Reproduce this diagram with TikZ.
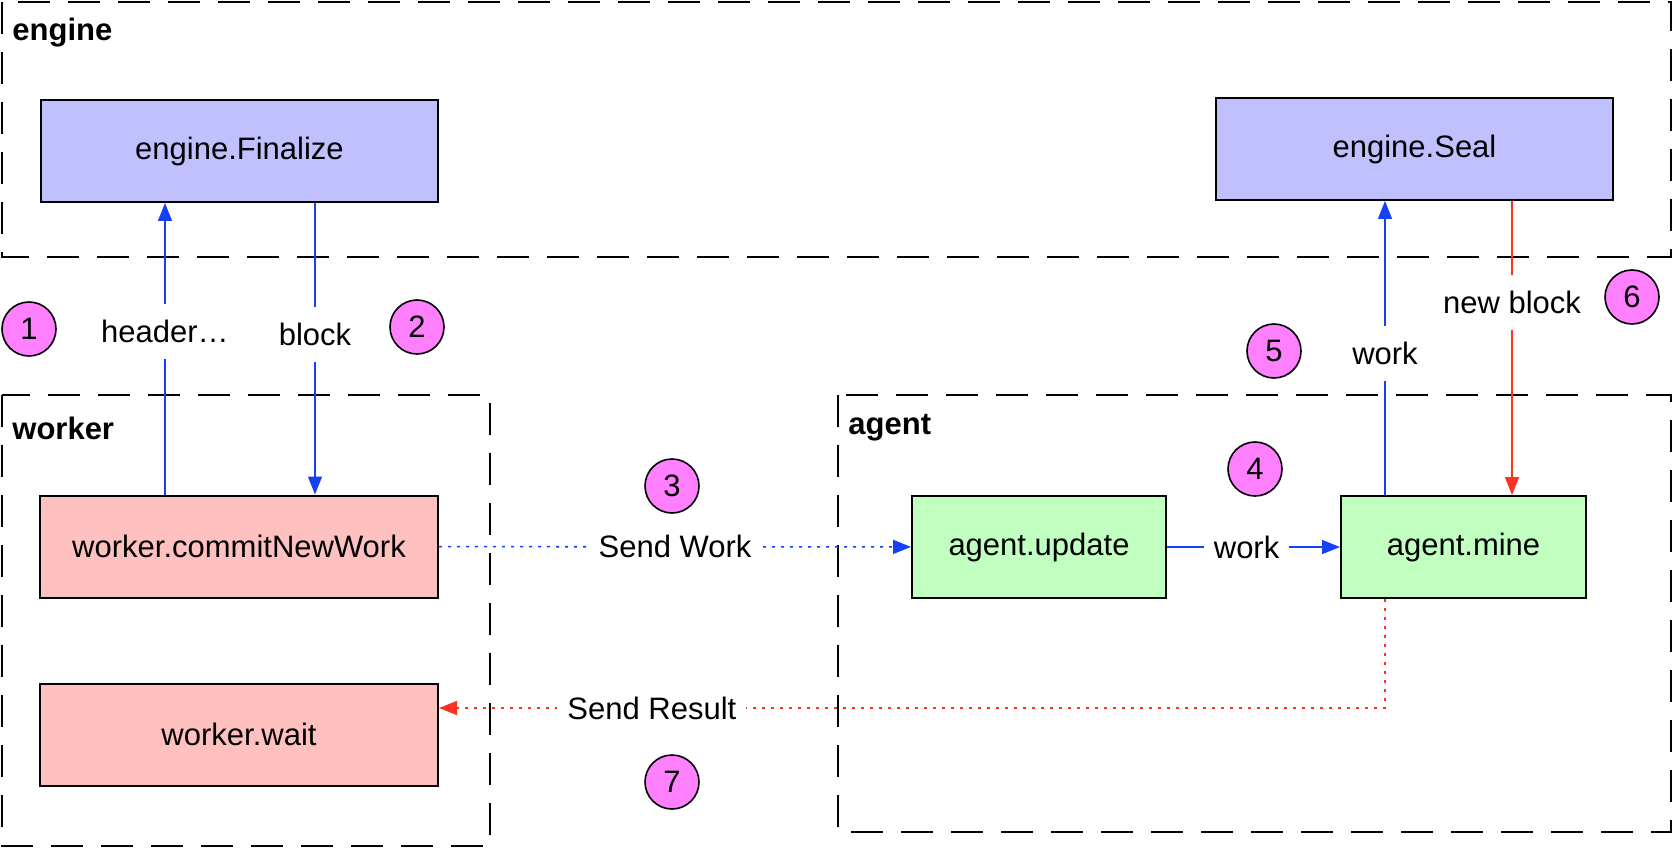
\documentclass[tikz,border=0pt]{standalone}
\usepackage{fontspec}
\setmainfont{Liberation Sans}
\usetikzlibrary{arrows.meta,calc,positioning}
\definecolor{enfill}{RGB}{192,192,255}
\definecolor{wkfill}{RGB}{255,192,192}
\definecolor{agfill}{RGB}{192,255,192}
\definecolor{stepfill}{RGB}{255,128,255}
\definecolor{flowblue}{RGB}{22,64,245}
\definecolor{flowred}{RGB}{250,50,35}

\begin{document}
\begin{tikzpicture}[x=0.5pt,y=-0.5pt,>={Triangle[length=9pt,width=7pt]},font=\fontsize{15.5}{18}\selectfont,
    box/.style={draw,line width=1pt,inner sep=0pt,minimum height=51pt},
    group/.style={draw,line width=1pt,dash pattern=on 16pt off 9pt},
    glabel/.style={font=\fontsize{15.5}{18}\selectfont\bfseries,anchor=west,inner sep=0pt},
    lbl/.style={fill=white,text=black,inner xsep=5pt,inner ysep=8pt},
    num/.style={circle,draw,line width=0.8pt,fill=stepfill,minimum size=27pt,inner sep=0pt},
    flow/.style={->,line width=0.8pt,flowblue},
    dots/.style={dash pattern=on 1.5pt off 3pt}]
    \useasboundingbox (0,0) rectangle (1674,850);
    % groups
    \draw[group] (2,2) rectangle (1671,257);
    \draw[group] (2,395) rectangle (490,846);
    \draw[group] (838,395) rectangle (1671,832);
    \node[glabel] (lengine) at (12,33) {engine};
    \node[glabel] (lworker) at (12,428) {worker};
    \node[glabel] (lagent) at (848,428) {agent};
    % boxes
    \node[box,fill=enfill,minimum width=198.5pt] (finalize) at (239.5,151) {engine.Finalize};
    \node[box,fill=enfill,minimum width=198.5pt] (seal) at (1414.5,149) {engine.Seal};
    \node[box,fill=wkfill,minimum width=199pt] (commit) at (239,546.5) {worker.commitNewWork};
    \node[box,fill=wkfill,minimum width=199pt,below=42pt of commit] (wait) {worker.wait};
    \node[box,fill=agfill,minimum width=127pt] (update) at (1039,547) {agent.update};
    \node[box,fill=agfill,minimum width=122.5pt,right=86.5pt of update] (mine) {agent.mine};
    % step marks
    \node[num] (s1) at (29,329) {1};
    \node[num] (s2) at (417,327) {2};
    \node[num] (s3) at (672,486) {3};
    \node[num] (s4) at (1255,469) {4};
    \node[num] (s5) at (1274,351) {5};
    \node[num] (s6) at (1632,297) {6};
    \node[num] (s7) at (672,782) {7};
    % connectors
    \coordinate (hx) at (165,0);
    \coordinate (bx) at (315,0);
    \coordinate (wx) at (1385,0);
    \coordinate (nx) at (1512,0);
    \coordinate (turn) at (1385,708);
    \draw[flow] (commit.north -| hx) -- node[lbl,pos=0.56]{header…} (finalize.south -| hx);
    \draw[flow] (finalize.south -| bx) -- node[lbl,pos=0.45]{block} (commit.north -| bx);
    \draw[flow,dots] (commit) -- node[lbl]{Send Work} (update);
    \draw[flow] (update) -- node[lbl,pos=0.46]{work} (mine);
    \draw[flow] (mine.north -| wx) -- node[lbl,pos=0.48]{work} (seal.south -| wx);
    \draw[flow,flowred] (seal.south -| nx) -- node[lbl,pos=0.345]{new block} (mine.north -| nx);
    \draw[flow,flowred,dots] (mine.south -| turn) -- (turn) -- node[lbl,pos=0.775]{Send Result} (wait.east |- turn);
\end{tikzpicture}
\end{document}
